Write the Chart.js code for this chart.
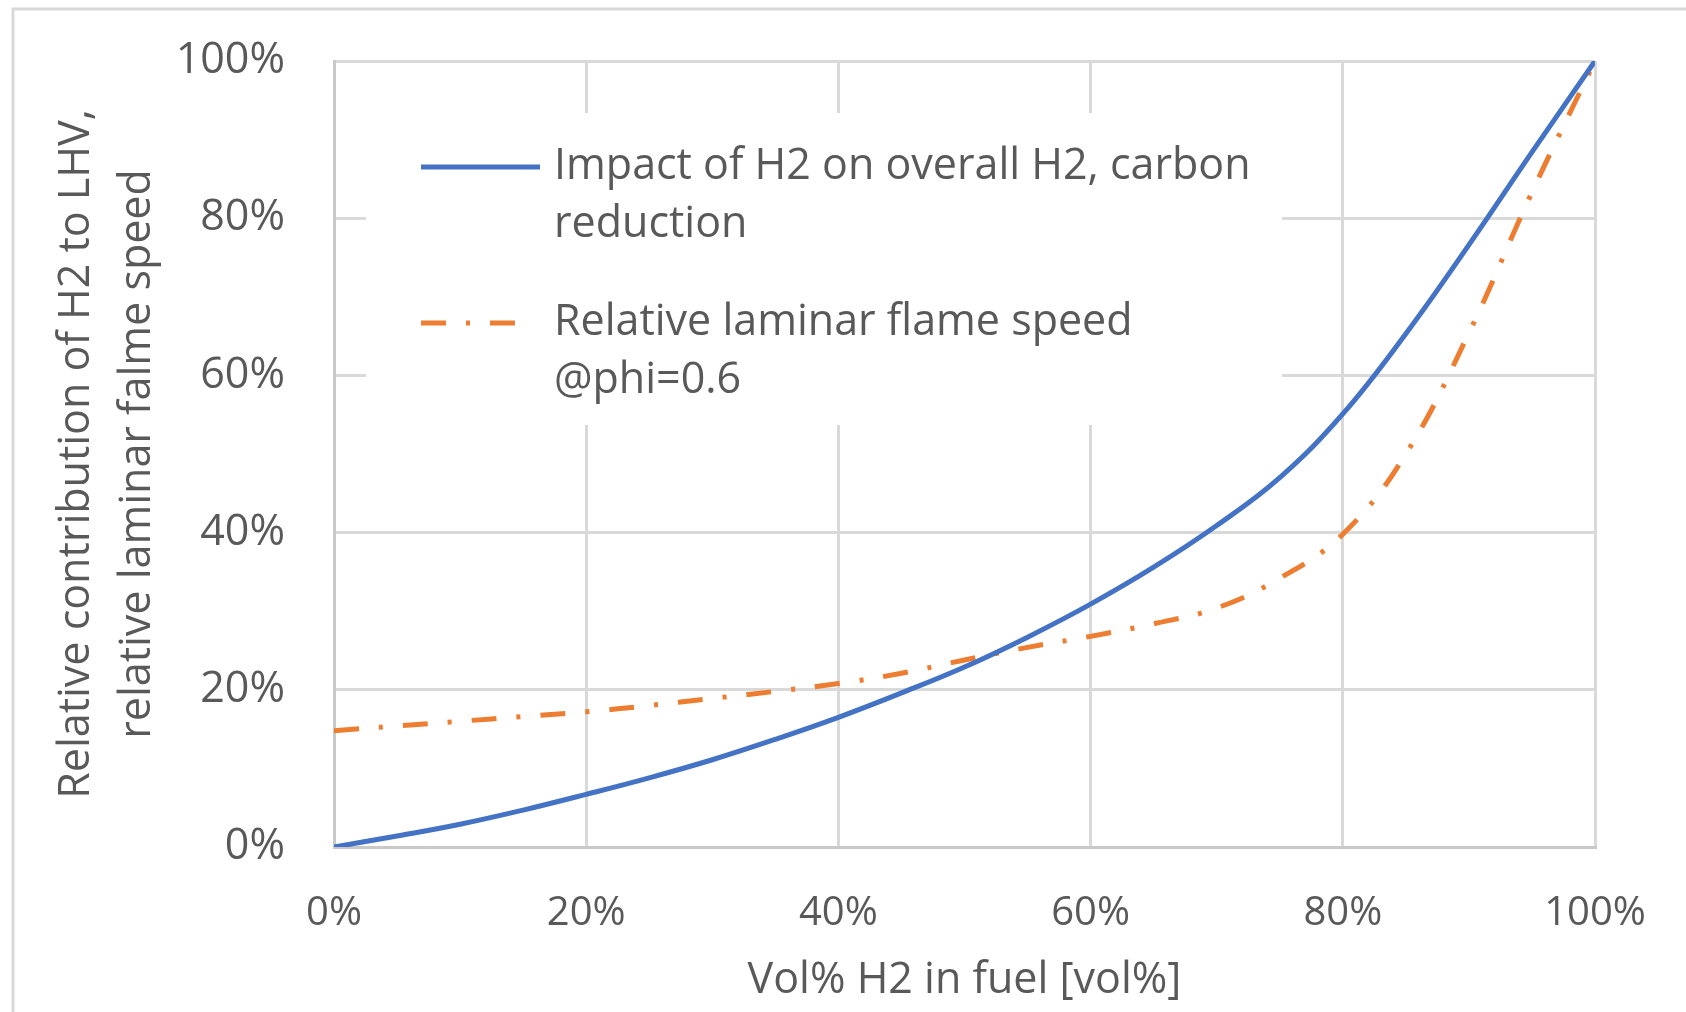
<!DOCTYPE html>
<html>
<head>
<meta charset="utf-8">
<script src="https://cdn.jsdelivr.net/npm/chart.js@4.4.0/dist/chart.umd.min.js"></script>
<style>
  html, body { margin: 0; padding: 0; background: #fff; }
  #wrap { width: 1686px; height: 1012px; position: relative; }
</style>
</head>
<body>
<div id="wrap"><canvas id="myChart" width="1686" height="1012"></canvas></div>
<script>
// values (percent)
var h2Vol = [0, 5, 10, 15, 20, 25, 30, 35, 40, 45, 50, 55, 60, 65, 70, 75, 80, 85, 90, 95, 100];
var impactH2 = [0, 1.4, 2.9, 4.7, 6.7, 8.8, 11.1, 13.7, 16.5, 19.6, 22.9, 26.7, 30.9, 35.6, 40.9, 47.0, 55.1, 65.3, 76.6, 88.4, 100];
var flameSpeed = [14.8, 15.4, 16, 16.6, 17.2, 18, 18.9, 19.8, 20.8, 22.1, 23.8, 25.4, 26.8, 28.4, 30.4, 34.2, 39.8, 50, 65.4, 83.3, 100];
var seriesNames = [
    ["Impact of H2 on overall H2, carbon", "reduction"],
    ["Relative laminar flame speed", "@phi=0.6"]
];
var xTitle = "Vol% H2 in fuel [vol%]";
var yTitle = ["Relative contribution of H2 to LHV,", "relative laminar falme speed"];

var FONT = "'Open Sans', 'Noto Sans', sans-serif";
var TXT = '#595959';

function toPoints(xs, ys) {
    return xs.map(function (x, i) { return { x: x, y: ys[i] }; });
}

// white-backed legend sitting inside the plot, like the Excel one
var insideLegend = {
    id: 'insideLegend',
    afterDatasetsDraw: function (chart) {
        var ctx = chart.ctx, a = chart.chartArea;
        ctx.save();
        ctx.fillStyle = '#fff';
        ctx.fillRect(a.left + 32, a.top + 52, 916, 312);
        chart.data.datasets.forEach(function (ds, i) {
            var y0 = a.top + 106 + i * 156;
            ctx.beginPath();
            ctx.strokeStyle = ds.borderColor;
            ctx.lineWidth = ds.borderWidth;
            ctx.lineCap = 'butt';
            ctx.setLineDash(ds.borderDash || []);
            ctx.moveTo(a.left + 87, y0);
            ctx.lineTo(a.left + (ds.borderDash ? 185 : 206), y0);
            ctx.stroke();
            ctx.setLineDash([]);
            ctx.fillStyle = TXT;
            ctx.font = '43px ' + FONT;
            ctx.textBaseline = 'middle';
            seriesNames[i].forEach(function (line, j) {
                ctx.fillText(line, a.left + 220, y0 + j * 58);
            });
        });
        ctx.restore();
    }
};

// light frame of the original chart object
var frame = {
    id: 'frame',
    beforeDraw: function (chart) {
        var ctx = chart.ctx;
        ctx.save();
        ctx.strokeStyle = '#d9d9d9';
        ctx.lineWidth = 3;
        ctx.beginPath();
        ctx.moveTo(13, chart.height);
        ctx.lineTo(13, 9);
        ctx.lineTo(chart.width, 9);
        ctx.stroke();
        ctx.restore();
    }
};

var ctx = document.getElementById('myChart').getContext('2d');
var myChart = new Chart(ctx, {
    type: 'line',
    data: {
        datasets: [{
            label: seriesNames[0].join(' '),
            data: toPoints(h2Vol, impactH2),
            borderColor: '#4472C4',
            borderWidth: 5,
            pointRadius: 0,
            tension: 0.4,
            fill: false
        }, {
            label: seriesNames[1].join(' '),
            data: toPoints(h2Vol, flameSpeed),
            borderColor: '#ED7D31',
            borderWidth: 5,
            borderDash: [25, 20, 4, 20],
            pointRadius: 0,
            tension: 0.4,
            fill: false
        }]
    },
    options: {
        responsive: false,
        devicePixelRatio: 1,
        animation: false,
        layout: { padding: { left: 0, right: 91, top: 61, bottom: 0 } },
        plugins: {
            legend: { display: false },
            tooltip: { enabled: false }
        },
        scales: {
            x: {
                type: 'linear',
                min: 0,
                max: 100,
                afterFit: function (s) { s.height = 165; },
                ticks: {
                    stepSize: 20,
                    padding: 0,
                    color: TXT,
                    font: { family: FONT, size: 40 },
                    callback: function (v) { return v + '%'; }
                },
                // invisible tick marks give the label gap without padding the plot
                grid: { color: '#d9d9d9', lineWidth: 3, tickLength: 43, tickColor: 'rgba(0,0,0,0)' },
                border: { color: '#c9c9c9', width: 3 },
                title: {
                    display: true,
                    text: xTitle,
                    color: TXT,
                    font: { family: FONT, size: 43, lineHeight: 1.2 },
                    padding: { top: 0, bottom: 5 }
                }
            },
            y: {
                min: 0,
                max: 100,
                afterFit: function (s) { s.width = 334; },
                ticks: {
                    stepSize: 20,
                    padding: 0,
                    color: TXT,
                    font: { family: FONT, size: 43 },
                    callback: function (v) { return v + '%'; }
                },
                grid: { color: '#d9d9d9', lineWidth: 3, tickLength: 49, tickColor: 'rgba(0,0,0,0)' },
                border: { color: '#c9c9c9', width: 3 },
                title: {
                    display: true,
                    text: yTitle,
                    color: TXT,
                    font: { family: FONT, size: 43, lineHeight: 1.42 },
                    padding: { top: 46, bottom: 0 }
                }
            }
        }
    },
    plugins: [frame, insideLegend]
});
</script>
</body>
</html>
